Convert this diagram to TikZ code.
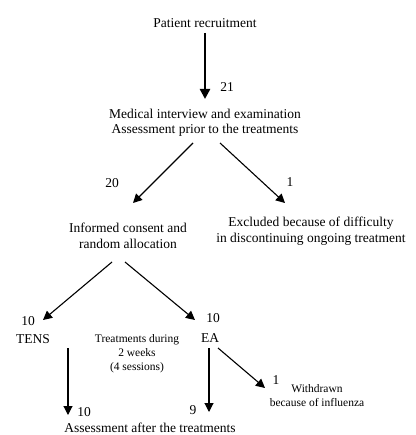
\documentclass[tikz,border=0pt]{standalone}
\usepackage{fontspec}
\setmainfont{Liberation Serif}
\usetikzlibrary{calc,arrows.meta}

\begin{document}
\begin{tikzpicture}[x=1pt,y=-1pt,
    box/.style={inner sep=0pt,align=center,font=\fontsize{13.5}{15.5}\selectfont},
    note/.style={inner sep=0pt,align=center,font=\fontsize{11.5}{14}\selectfont},
    num/.style={inner sep=0pt,font=\fontsize{13.5}{15.5}\selectfont},
    flow/.style={line width=1.1pt,-{Triangle[length=9pt,width=9pt]}},
    bigflow/.style={line width=2.4pt,-{Triangle[length=10pt,width=10pt]}}]
			%%%%% START %%%%%
			\useasboundingbox (0, 0) rectangle (415, 435);
			
			\node[box] (rec) at (205, 23) {Patient recruitment};
			\node[box] (med) at (205, 123) {Medical interview and examination\\Assessment prior to the treatments};
			\node[box] (inf) at (128, 236) {Informed consent and\\random allocation};
			\node[box] (exc) at (311, 231) {Excluded because of difficulty\\in discontinuing ongoing treatment};
			\node[box] (tens) at (33, 339) {TENS};
			\node[box] (ea) at (210, 338) {EA};
			\node[note] (trt) at (137, 354) {Treatments during\\2 weeks\\(4 sessions)};
			\node[note] (wd) at (317, 396) {Withdrawn\\because of influenza};
			\node[box] (post) at (150, 428) {Assessment after the treatments};
			
			\node[num] (n21) at (227, 87) {21};
			\node[num] (n20) at (112, 183) {20};
			\node[num] (nexc) at (290, 182) {1};
			\node[num] (ntens) at (28, 321) {10};
			\node[num] (nea) at (213, 318) {10};
			\node[num] (npostt) at (84, 412) {10};
			\node[num] (nposte) at (193, 410) {9};
			\node[num] (nwd) at (276, 380) {1};
			
			\draw[bigflow] ($(rec)+(0, 10)$) -- ($(med)+(0, -24)$);
			\draw[flow] ($(med)+(-12, 20)$) -- ($(inf)+(5, -33)$);
			\draw[flow] ($(med)+(15, 20)$) -- ($(exc)+(-26, -28)$);
			
			\draw[flow] ($(inf)+(-16, 26)$) -- ($(tens)+(10, -19)$);
			\draw[flow] ($(inf)+(-3, 26)$) -- ($(ea)+(-15, -18)$);
			
			\draw[flow] ($(tens)+(35, 9)$) -- ($(post)+(-82, -13)$);
			\draw[flow] ($(ea)+(-1, 10)$) -- ($(post)+(59, -16)$);
			\draw[flow] ($(ea)+(8, 10)$) -- ($(wd)+(-52, -8)$);
			
			%%%%% END %%%%%
\end{tikzpicture}
\end{document}
